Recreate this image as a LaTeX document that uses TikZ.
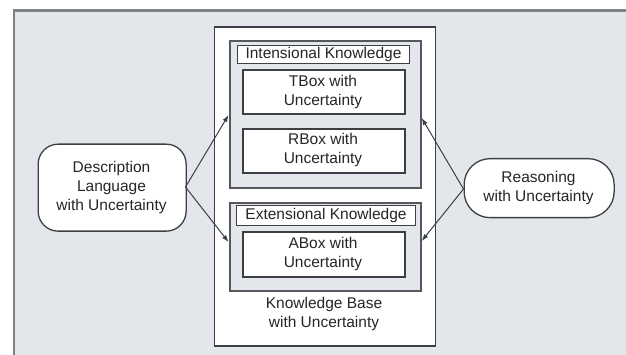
\documentclass[tikz,border=0pt]{standalone}
\usepackage{fontspec}
\setmainfont{Liberation Sans}
\usetikzlibrary{arrows.meta}
\definecolor{bggray}{HTML}{E3E6EA}
\definecolor{framegray}{HTML}{7E8286}
\definecolor{linegray}{HTML}{3C3F43}
\definecolor{groupgray}{HTML}{55585C}
\tikzset{
  x=1pt,y=-1pt,
  txt/.style={font=\fontsize{15.5}{19}\selectfont, align=center, inner sep=0pt, text=black!85},
  whitebox/.style={draw=linegray, line width=1.7pt, fill=white},
  groupbox/.style={draw=groupgray, line width=2.2pt, fill=bggray},
  labelbox/.style={draw=linegray, line width=1pt, fill=white},
  roundbox/.style={draw=linegray, line width=1.3pt, fill=white, rounded corners=20pt},
  conn/.style={draw=linegray, line width=1pt, -{Latex[length=7pt,width=5pt]}}
}
\begin{document}
\begin{tikzpicture}
\useasboundingbox (0,0) rectangle (626,355);
\fill[white] (0,0) rectangle (626,355);
\fill[bggray] (14,10.5) rectangle (626,355);
\draw[framegray, line width=2.5pt] (14,355) -- (14,10.5) -- (626,10.5);
% knowledge base
\node[whitebox, minimum width=221pt, minimum height=319pt, anchor=north west] (kb) at (213.5,26) {};
\node[txt] (kbt) at (324,314) {Knowledge Base\\with Uncertainty};
% intensional
\node[groupbox, minimum width=191pt, minimum height=147pt, anchor=north west] (int) at (228.5,40) {};
\node[labelbox, minimum width=172pt, minimum height=18pt, anchor=north west, txt] (intl) at (237,45) {Intensional Knowledge};
\node[whitebox, minimum width=162pt, minimum height=44pt, anchor=north west] (tbox) at (242,69.5) {};
\node[txt] (tboxt) at (323,91.5) {TBox with\\Uncertainty};
\node[whitebox, minimum width=162pt, minimum height=44pt, anchor=north west] (rbox) at (242,128) {};
\node[txt] (rboxt) at (323,150) {RBox with\\Uncertainty};
% extensional
\node[groupbox, minimum width=191pt, minimum height=88pt, anchor=north west] (ext) at (228.5,202) {};
\node[labelbox, minimum width=179pt, minimum height=20pt, anchor=north west, txt] (extl) at (236,205) {Extensional Knowledge};
\node[whitebox, minimum width=162pt, minimum height=45pt, anchor=north west] (abox) at (242,231) {};
\node[txt] (aboxt) at (323,253.5) {ABox with\\Uncertainty};
% side nodes
\node[roundbox, minimum width=148pt, minimum height=87pt, anchor=north west] (desc) at (37.5,143.5) {};
\node[txt] (desct) at (111.5,187) {Description\\Language\\with Uncertainty};
\node[roundbox, minimum width=150pt, minimum height=59pt, anchor=north west, rounded corners=26pt] (reas) at (463.5,158) {};
\node[txt] (reast) at (538.5,187.5) {Reasoning\\with Uncertainty};
% arrows
\coordinate (dl) at (185.5,187);
\coordinate (rl) at (463.5,189);
\draw[conn] (dl) -- (int.west |- 0,115);
\draw[conn] (dl) -- (ext.west |- 0,242);
\draw[conn] (rl) -- (int.east |- 0,118);
\draw[conn] (rl) -- (ext.east |- 0,241);
\end{tikzpicture}
\end{document}
